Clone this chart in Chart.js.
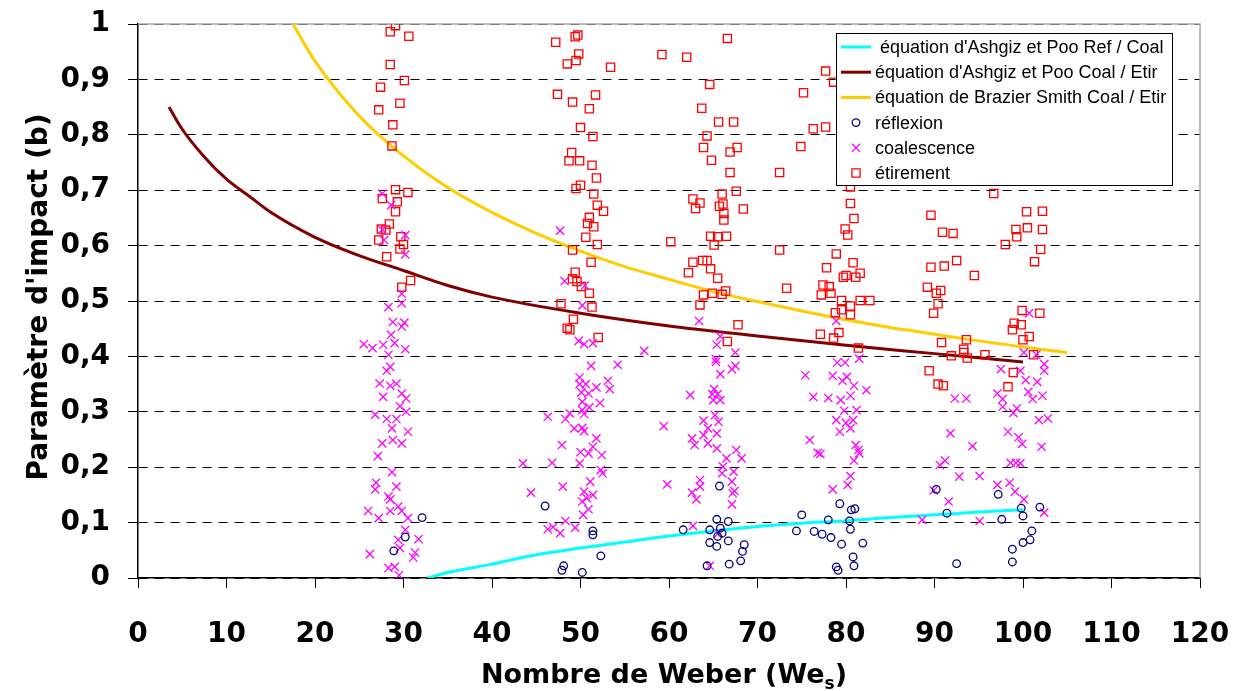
<!DOCTYPE html>
<html lang="fr">
<head>
<meta charset="utf-8">
<title>Paramètre d'impact en fonction du nombre de Weber</title>
<script src="https://cdn.jsdelivr.net/npm/chart.js"></script>
<style>
    body { margin: 0; background: #fff; }
    #wrap { width: 1237px; height: 691px; }
</style>
</head>
<body>
<div id="wrap"><canvas id="chart" width="1237" height="691"></canvas></div>
<script>
// axes
var xTickLabels = ['0', '10', '20', '30', '40', '50', '60', '70', '80', '90', '100', '110', '120'];
var yTickLabels = ['0', '0,1', '0,2', '0,3', '0,4', '0,5', '0,6', '0,7', '0,8', '0,9', '1'];

// courbes (We, b)
var ashgizRefCoal = [[32.7, 0], [35, 0.01], [40, 0.025], [45, 0.042], [50, 0.054], [55, 0.065],
    [60, 0.076], [65, 0.085], [70, 0.093], [75, 0.099], [80, 0.103], [85, 0.109], [90, 0.114],
    [95, 0.119], [100, 0.123]];
var ashgizCoalEtir = [[3.5, 0.85], [5, 0.81], [7.5, 0.76], [10, 0.72], [12.5, 0.69], [15, 0.66],
    [20, 0.615], [25, 0.582], [30, 0.555], [35, 0.528], [40, 0.507], [50, 0.478], [60, 0.455],
    [70, 0.437], [80, 0.42], [90, 0.405], [100, 0.39]];
var brazierSmith = [[17.5, 1.0], [20, 0.933], [25, 0.834], [30, 0.762], [35, 0.705], [40, 0.66],
    [45, 0.622], [50, 0.59], [55, 0.562], [60, 0.539], [65, 0.517], [70, 0.499], [75, 0.482],
    [80, 0.466], [85, 0.452], [90, 0.44], [95, 0.428], [100, 0.417], [105, 0.407]];

// points experimentaux (We, b)
var reflexion = [
    [32.1, 0.109], [30.2, 0.074], [28.9, 0.049],
    [46.0, 0.13], [51.4, 0.085], [51.4, 0.078], [52.3, 0.04], [48.1, 0.022], [47.9, 0.014], [50.2, 0.01],
    [65.7, 0.166], [65.4, 0.106], [66.7, 0.102], [61.6, 0.087], [64.6, 0.087], [65.8, 0.09], [66.0, 0.081],
    [65.5, 0.075], [64.6, 0.064], [66.7, 0.067], [65.4, 0.057], [68.5, 0.06], [68.3, 0.048], [68.1, 0.031],
    [66.8, 0.025], [64.3, 0.022],
    [79.3, 0.134], [80.6, 0.123], [81.0, 0.125], [75.0, 0.114], [78.0, 0.105], [80.4, 0.103], [80.5, 0.088],
    [74.4, 0.085], [76.4, 0.084], [77.3, 0.079], [78.3, 0.073], [79.5, 0.061], [81.9, 0.063], [80.8, 0.038],
    [80.9, 0.022], [78.9, 0.02], [79.1, 0.014],
    [90.2, 0.16], [97.2, 0.151], [91.4, 0.117], [97.6, 0.106], [99.8, 0.126], [100.0, 0.112], [101.9, 0.128],
    [101.0, 0.085], [100.8, 0.069], [100.0, 0.064], [98.8, 0.052], [98.8, 0.029], [92.5, 0.026]
];
var coalescence = [
    [27.6, 0.694], [28.6, 0.673], [27.6, 0.629], [30.2, 0.619], [27.8, 0.61], [30.2, 0.584], [29.8, 0.513],
    [29.8, 0.496], [28.3, 0.489], [28.8, 0.462], [30.1, 0.461], [29.8, 0.454], [25.5, 0.422], [26.5, 0.415],
    [27.7, 0.421], [28.6, 0.439], [29.0, 0.424], [30.2, 0.413], [28.3, 0.403], [28.5, 0.381], [28.1, 0.374],
    [27.3, 0.351], [28.5, 0.347], [29.2, 0.351], [27.7, 0.327], [29.8, 0.333], [30.3, 0.324], [29.6, 0.31],
    [30.3, 0.30], [26.8, 0.295], [28.1, 0.287], [29.2, 0.287], [28.7, 0.27], [30.5, 0.264], [27.6, 0.243],
    [28.8, 0.249], [29.8, 0.243], [27.1, 0.22], [28.7, 0.191], [26.9, 0.172], [26.8, 0.16], [29.2, 0.165],
    [28.3, 0.147], [28.5, 0.142], [26.0, 0.121], [27.2, 0.108], [28.5, 0.121], [29.4, 0.129], [29.8, 0.121],
    [30.5, 0.108], [30.2, 0.087], [31.7, 0.07], [29.4, 0.069], [29.6, 0.054], [26.2, 0.043], [31.3, 0.046],
    [31.1, 0.037], [28.3, 0.018], [29.0, 0.02], [29.5, 0.005],
    [47.7, 0.627], [48.2, 0.536], [50.5, 0.528], [50.2, 0.492], [49.8, 0.428], [50.4, 0.422], [51.4, 0.424],
    [51.2, 0.383], [54.2, 0.385], [49.9, 0.362], [49.9, 0.35], [50.6, 0.35], [53.1, 0.356], [51.8, 0.344],
    [53.3, 0.341], [50.1, 0.335], [50.9, 0.333], [50.2, 0.318], [52.2, 0.316], [51.0, 0.308], [50.2, 0.303],
    [46.3, 0.291], [48.3, 0.287], [48.8, 0.297], [50.4, 0.296], [49.3, 0.27], [50.2, 0.271], [50.4, 0.265],
    [51.8, 0.252], [47.9, 0.24], [51.4, 0.237], [50.0, 0.227], [50.9, 0.225], [52.4, 0.222], [43.5, 0.207],
    [46.8, 0.208], [49.9, 0.207], [52.3, 0.195], [52.5, 0.189], [51.1, 0.174], [48.0, 0.165], [44.4, 0.154],
    [50.4, 0.156], [51.4, 0.15], [50.7, 0.144], [50.2, 0.138], [50.9, 0.124], [50.3, 0.114], [48.3, 0.103],
    [46.3, 0.088], [46.9, 0.092], [47.7, 0.081], [49.4, 0.091],
    [63.4, 0.464], [65.8, 0.436], [65.4, 0.421], [57.2, 0.41], [67.5, 0.407], [65.3, 0.395], [65.3, 0.39],
    [67.5, 0.383], [67.1, 0.377], [65.8, 0.368], [65.1, 0.341], [62.4, 0.33], [64.9, 0.332], [65.5, 0.332],
    [65.8, 0.321], [65.0, 0.321], [65.2, 0.294], [65.6, 0.282], [59.4, 0.274], [63.9, 0.284], [64.4, 0.27],
    [65.4, 0.261], [63.9, 0.258], [62.6, 0.252], [62.9, 0.24], [64.4, 0.243], [65.4, 0.234], [67.6, 0.231],
    [66.5, 0.216], [68.2, 0.216], [66.1, 0.201], [67.3, 0.192], [66.0, 0.189], [59.8, 0.169], [63.5, 0.177],
    [67.1, 0.174], [63.5, 0.165], [62.6, 0.154], [67.4, 0.157], [67.2, 0.153], [63.1, 0.142], [67.1, 0.133],
    [62.7, 0.094], [65.6, 0.081], [64.6, 0.022],
    [78.9, 0.464], [79.0, 0.389], [79.9, 0.389], [81.5, 0.396], [75.4, 0.366], [78.5, 0.365], [80.1, 0.363],
    [79.6, 0.356], [80.9, 0.347], [82.3, 0.339], [76.3, 0.327], [78.0, 0.325], [79.4, 0.321], [80.5, 0.329],
    [79.8, 0.302], [81.2, 0.303], [78.9, 0.285], [80.0, 0.28], [80.8, 0.285], [79.3, 0.264], [80.5, 0.27],
    [75.9, 0.249], [76.8, 0.226], [77.1, 0.224], [81.1, 0.24], [81.4, 0.231], [81.5, 0.225], [80.9, 0.212],
    [80.5, 0.184], [80.2, 0.168], [78.5, 0.16],
    [100.7, 0.478], [100.1, 0.407], [101.5, 0.403], [102.4, 0.386], [102.4, 0.374], [97.5, 0.377], [99.7, 0.374],
    [100.3, 0.357], [101.6, 0.354], [100.6, 0.336], [101.1, 0.323], [102.2, 0.329], [92.3, 0.324], [93.6, 0.324],
    [97.1, 0.333], [97.7, 0.323], [97.7, 0.309], [98.9, 0.298], [99.3, 0.306], [101.8, 0.285], [102.8, 0.288],
    [91.8, 0.261], [94.3, 0.238], [98.3, 0.264], [99.5, 0.254], [99.9, 0.242], [102.1, 0.237], [91.2, 0.212],
    [90.6, 0.204], [98.6, 0.208], [99.2, 0.208], [99.7, 0.207], [92.8, 0.183], [95.1, 0.184], [97.1, 0.168],
    [98.5, 0.172], [89.9, 0.158], [99.1, 0.156], [100.1, 0.142], [91.6, 0.138], [88.6, 0.105], [95.1, 0.103],
    [102.4, 0.118]
];
var etirement = [
    [29.1, 0.997], [28.5, 0.986], [30.6, 0.978], [28.5, 0.927], [30.1, 0.898], [27.4, 0.886], [29.6, 0.857],
    [27.2, 0.845], [28.8, 0.818], [28.7, 0.78], [29.1, 0.701], [30.5, 0.696], [27.6, 0.685], [29.3, 0.679],
    [29.1, 0.661], [28.4, 0.639], [27.5, 0.63], [28.0, 0.628], [27.2, 0.61], [29.7, 0.616], [30.0, 0.602],
    [29.6, 0.594], [28.1, 0.58], [30.8, 0.537], [29.8, 0.525],
    [47.2, 0.967], [49.4, 0.977], [49.7, 0.98], [49.8, 0.946], [48.5, 0.928], [49.5, 0.934], [53.4, 0.922],
    [47.4, 0.873], [49.1, 0.859], [51.7, 0.872], [51.0, 0.847], [50.0, 0.813], [51.4, 0.797], [49.0, 0.768],
    [48.7, 0.753], [49.9, 0.753], [51.3, 0.745], [51.8, 0.722], [50.0, 0.709], [49.5, 0.703], [51.5, 0.693],
    [51.9, 0.673], [52.6, 0.662], [51.0, 0.651], [50.8, 0.64], [51.5, 0.634], [50.6, 0.615], [51.9, 0.602],
    [49.1, 0.592], [51.2, 0.57], [49.4, 0.552], [49.1, 0.54], [49.6, 0.535], [50.1, 0.526], [51.0, 0.514],
    [47.8, 0.495], [51.3, 0.489], [49.2, 0.467], [48.5, 0.451], [48.8, 0.448], [52.0, 0.434],
    [66.6, 0.974], [59.2, 0.945], [62.0, 0.94], [64.6, 0.891], [63.7, 0.848], [65.6, 0.823], [67.3, 0.823],
    [64.3, 0.798], [63.9, 0.777], [67.7, 0.777], [66.9, 0.769], [64.8, 0.754], [66.9, 0.732], [72.5, 0.732],
    [67.6, 0.698], [66.0, 0.693], [62.7, 0.684], [63.5, 0.677], [63.0, 0.667], [65.7, 0.671], [66.1, 0.675],
    [68.4, 0.666], [66.2, 0.658], [66.2, 0.646], [60.2, 0.607], [64.7, 0.617], [65.5, 0.616], [66.5, 0.617],
    [65.1, 0.601], [72.5, 0.592], [62.7, 0.57], [63.8, 0.573], [64.3, 0.573], [62.2, 0.551], [64.7, 0.558],
    [65.5, 0.541], [63.9, 0.511], [64.9, 0.514], [66.0, 0.512], [66.4, 0.518], [63.5, 0.493], [67.8, 0.457],
    [66.6, 0.427],
    [77.7, 0.915], [78.6, 0.895], [75.2, 0.876], [76.3, 0.811], [77.7, 0.814], [74.9, 0.779], [80.5, 0.706],
    [80.5, 0.676], [80.9, 0.649], [79.9, 0.63], [80.2, 0.619], [78.9, 0.585], [80.8, 0.569], [77.8, 0.56],
    [80.0, 0.546], [81.6, 0.55], [79.7, 0.543], [81.1, 0.543], [73.3, 0.523], [77.4, 0.529], [78.1, 0.526],
    [77.2, 0.511], [78.3, 0.514], [81.6, 0.501], [82.7, 0.501], [79.5, 0.501], [80.5, 0.491], [78.8, 0.479],
    [79.5, 0.484], [80.5, 0.475], [77.1, 0.44], [79.2, 0.443], [78.6, 0.433], [81.4, 0.415],
    [96.7, 0.694], [89.6, 0.655], [90.9, 0.624], [92.1, 0.622], [100.4, 0.661], [102.2, 0.662], [99.2, 0.629],
    [100.5, 0.632], [102.2, 0.629], [99.3, 0.616], [98.0, 0.602], [102.0, 0.593], [92.5, 0.573], [89.6, 0.561],
    [91.1, 0.563], [101.3, 0.571], [94.5, 0.546], [89.2, 0.525], [90.7, 0.519], [90.2, 0.514], [90.4, 0.495],
    [89.9, 0.478], [99.9, 0.483], [101.9, 0.478], [99.0, 0.46], [99.8, 0.457], [98.8, 0.448], [100.7, 0.436],
    [100.0, 0.43], [93.6, 0.43], [90.8, 0.425], [93.3, 0.413], [93.3, 0.407], [91.9, 0.401], [93.7, 0.397],
    [95.7, 0.403], [101.2, 0.403], [89.4, 0.374], [98.9, 0.371], [90.4, 0.35], [91.0, 0.347], [98.3, 0.345]
];

var FONT = 'DejaVu Sans';

function toXY(list) {
    return list.map(function (p) { return { x: p[0], y: p[1] }; });
}

function curve(label, list, color) {
    return {
        label: label,
        data: toXY(list),
        showLine: true,
        borderColor: color,
        borderWidth: 3,
        pointRadius: 0,
        fill: false,
        cubicInterpolationMode: 'monotone',
        order: 2
    };
}

function points(label, list, style, color, radius) {
    return {
        label: label,
        data: toXY(list),
        showLine: false,
        pointStyle: style,
        pointRadius: radius,
        pointBorderColor: color,
        pointBackgroundColor: 'rgba(0,0,0,0)',
        pointBorderWidth: 1.3,
        borderColor: color,
        order: 1
    };
}

// cadre gris en haut et a droite
var framePlugin = {
    id: 'frame',
    beforeDatasetsDraw: function (chart) {
        var a = chart.chartArea, ctx = chart.ctx;
        ctx.save();
        ctx.strokeStyle = '#a6a6a6';
        ctx.lineWidth = 1.5;
        ctx.beginPath();
        ctx.moveTo(a.left, a.top);
        ctx.lineTo(a.right, a.top);
        ctx.lineTo(a.right, a.bottom);
        ctx.stroke();
        ctx.restore();
    }
};

// titres des axes (avec indice pour We_s)
var titlePlugin = {
    id: 'axisTitles',
    afterDraw: function (chart) {
        var a = chart.chartArea, ctx = chart.ctx;
        ctx.save();
        ctx.fillStyle = '#000';
        ctx.textBaseline = 'alphabetic';

        var main = 'Nombre de Weber (We';
        ctx.font = 'bold 27px "' + FONT + '"';
        var w1 = ctx.measureText(main).width;
        ctx.font = 'bold 17px "' + FONT + '"';
        var w2 = ctx.measureText('s').width;
        ctx.font = 'bold 27px "' + FONT + '"';
        var w3 = ctx.measureText(')').width;
        var x0 = (a.left + a.right) / 2 - 5 - (w1 + w2 + w3) / 2;
        var yb = 683;
        ctx.textAlign = 'left';
        ctx.fillText(main, x0, yb);
        ctx.font = 'bold 17px "' + FONT + '"';
        ctx.fillText('s', x0 + w1, yb + 6);
        ctx.font = 'bold 27px "' + FONT + '"';
        ctx.fillText(')', x0 + w1 + w2, yb);

        ctx.font = 'bold 28px "' + FONT + '"';
        ctx.translate(47, (a.top + a.bottom) / 2 - 4);
        ctx.rotate(-Math.PI / 2);
        ctx.textAlign = 'center';
        ctx.fillText("Paramètre d'impact (b)", 0, 0);
        ctx.restore();
    }
};

// legende dans la zone de trace
var legendPlugin = {
    id: 'boxLegend',
    afterDraw: function (chart) {
        var a = chart.chartArea, ctx = chart.ctx;
        var left = a.right - 364, top = a.top + 9, width = 336, height = 152;
        ctx.save();
        ctx.fillStyle = '#fff';
        ctx.fillRect(left, top, width, height);
        ctx.strokeStyle = '#000';
        ctx.lineWidth = 1;
        ctx.strokeRect(left + 0.5, top + 0.5, width, height);
        ctx.font = '18px "Liberation Sans"';
        ctx.textBaseline = 'middle';
        ctx.textAlign = 'left';
        var order = [3, 4, 5, 0, 1, 2];
        order.forEach(function (di, i) {
            var ds = chart.data.datasets[di];
            var cy = top + 14 + i * 25.2;
            var mx = left + 20;
            ctx.strokeStyle = ds.borderColor;
            if (ds.showLine) {
                ctx.lineWidth = 3;
                ctx.beginPath();
                ctx.moveTo(left + 5, cy);
                ctx.lineTo(left + 35, cy);
                ctx.stroke();
            } else {
                ctx.lineWidth = 1.3;
                ctx.beginPath();
                var r = ds.pointRadius;
                if (ds.pointStyle === 'circle') {
                    ctx.arc(mx, cy, r, 0, Math.PI * 2);
                } else if (ds.pointStyle === 'rect') {
                    var s = r * Math.SQRT1_2;
                    ctx.rect(mx - s, cy - s, 2 * s, 2 * s);
                } else {
                    var o = r * Math.SQRT1_2;
                    ctx.moveTo(mx - o, cy - o); ctx.lineTo(mx + o, cy + o);
                    ctx.moveTo(mx + o, cy - o); ctx.lineTo(mx - o, cy + o);
                }
                ctx.stroke();
            }
            ctx.fillStyle = '#000';
            ctx.fillText(ds.label, left + 39, cy + 1);
        });
        ctx.restore();
    }
};

var ctx = document.getElementById('chart').getContext('2d');
var myChart = new Chart(ctx, {
    type: 'scatter',
    data: {
        datasets: [
            points('réflexion', reflexion, 'circle', '#000080', 3.8),
            points('coalescence', coalescence, 'crossRot', '#ff00ff', 5.8),
            points('étirement', etirement, 'rect', '#ff0000', 5.8),
            curve(" équation d'Ashgiz et Poo Ref / Coal", ashgizRefCoal, '#00ffff'),
            curve("équation d'Ashgiz et Poo Coal / Etir", ashgizCoalEtir, '#800000'),
            curve('équation de Brazier Smith Coal / Etir', brazierSmith, '#ffcc00')
        ]
    },
    options: {
        responsive: false,
        animation: false,
        events: [],
        layout: { padding: { top: 24, right: 37, bottom: 0, left: 0 } },
        plugins: {
            legend: { display: false },
            tooltip: { enabled: false }
        },
        scales: {
            x: {
                type: 'linear',
                min: 0,
                max: 120,
                afterFit: function (scale) {
                    scale.height = 113;
                    scale.paddingLeft = 0;
                    scale.paddingRight = 0;
                },
                ticks: {
                    stepSize: 10,
                    padding: 30,
                    color: '#000',
                    font: { family: FONT, size: 28, weight: 'bold' },
                    maxRotation: 0,
                    callback: function (value) { return xTickLabels[Math.round(value / 10)]; }
                },
                grid: { drawOnChartArea: false, drawTicks: true, tickLength: 10, color: '#000' },
                border: { color: '#000', width: 1.5 }
            },
            y: {
                min: 0,
                max: 1,
                afterFit: function (scale) {
                    scale.width = 138;
                    scale.paddingTop = 0;
                    scale.paddingBottom = 0;
                },
                ticks: {
                    stepSize: 0.1,
                    padding: 18,
                    color: '#000',
                    font: { family: FONT, size: 28, weight: 'bold' },
                    callback: function (value) { return yTickLabels[Math.round(value * 10)]; }
                },
                grid: { color: '#000', lineWidth: 1, tickLength: 10, tickColor: '#000', tickBorderDash: [] },
                border: { color: '#000', width: 1.5, dash: [9, 7] }
            }
        }
    },
    plugins: [framePlugin, titlePlugin, legendPlugin]
});
</script>
</body>
</html>
